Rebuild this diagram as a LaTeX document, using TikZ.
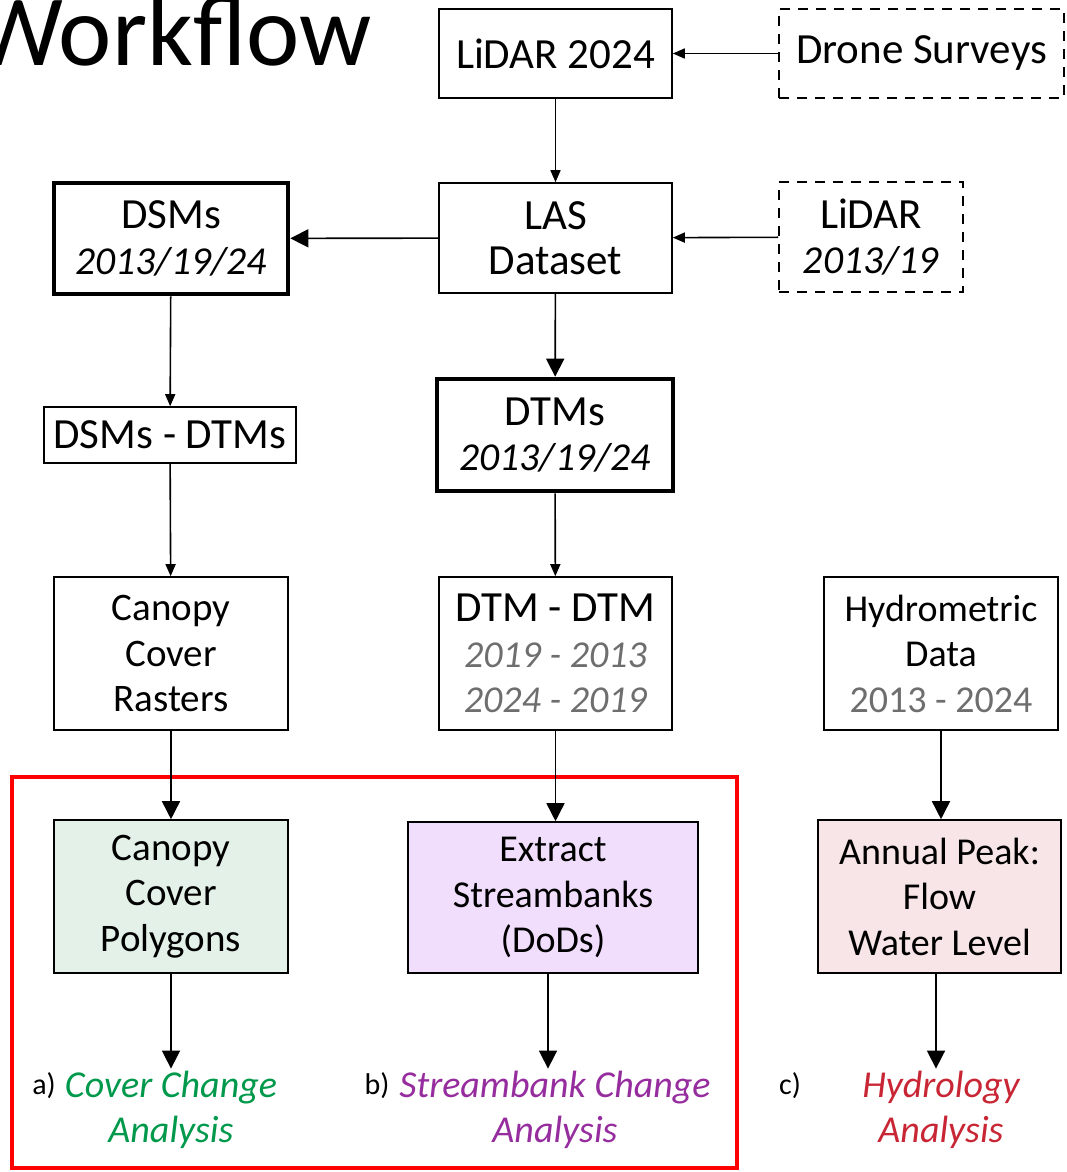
\documentclass[tikz,border=0pt]{standalone}
\usepackage{fontspec}
\setmainfont{Carlito}
\usetikzlibrary{arrows.meta}
\definecolor{coverfill}{RGB}{227,241,232}
\definecolor{bankfill}{RGB}{241,222,252}
\definecolor{hydrofill}{RGB}{247,229,231}
\definecolor{covertext}{RGB}{0,153,76}
\definecolor{banktext}{RGB}{150,45,158}
\definecolor{hydrotext}{RGB}{200,38,52}
\definecolor{yeartext}{RGB}{110,110,110}
\newcommand{\yearsize}{\fontsize{19.8}{22.75}\selectfont}
\newcommand{\greysize}{\fontsize{19}{22.75}\selectfont}
\tikzset{
  box/.style={draw, line width=0.8pt, align=center, inner sep=0pt},
  thickbox/.style={box, line width=2.3pt},
  dashbox/.style={box, dash pattern=on 5pt off 4pt},
  midtext/.style={font=\fontsize{19.5}{22.75}\selectfont},
  smalltext/.style={font=\fontsize{19}{22.75}\selectfont},
  arr/.style={-{Triangle[length=6pt, width=5pt]}, line width=0.8pt},
  bigarr/.style={-{Triangle[length=9pt, width=9pt]}, line width=0.8pt},
  result/.style={align=center, inner sep=1pt, font=\fontsize{19}{22.75}\selectfont\itshape},
  tag/.style={anchor=base, inner sep=0pt, font=\fontsize{15}{18}\selectfont}
}

\begin{document}
\begin{tikzpicture}[x=0.5pt, y=-0.5pt, every node/.style={font=\fontsize{21.5}{22.75}\selectfont}]
    \useasboundingbox (0,0) rectangle (1066,1172);

    % Title
    \node[anchor=base east, inner sep=0pt, font=\fontsize{50.5}{54}\selectfont] (title) at (372,66) {Workflow};

    % Top row
    \node[box, minimum width=116.5pt, minimum height=44.5pt] (lidar24) at (555.5,53.5) {LiDAR 2024};
    \node[dashbox, minimum width=142.5pt, minimum height=44.5pt] (drone) at (921.5,53.5) {Drone Surveys};

    % Second row
    \node[box, minimum width=116.5pt, minimum height=55pt] (las) at (555.5,238) {LAS\\Dataset};
    \node[dashbox, minimum width=92pt, minimum height=55pt] (lidarold) at (871,237) {LiDAR\\{\yearsize\textit{2013/19}}};
    \node[thickbox, minimum width=117pt, minimum height=55.5pt] (dsms) at (171,238.5) {DSMs\\{\yearsize\textit{2013/19/24}}};

    % Third row
    \node[thickbox, minimum width=118pt, minimum height=56pt] (dtms) at (555,435) {DTMs\\{\yearsize\textit{2013/19/24}}};
    \node[box, minimum width=126pt, minimum height=28pt] (diffsm) at (170,435) {DSMs - DTMs};

    % Fourth row
    \node[box, midtext, minimum width=117pt, minimum height=76.5pt] (rasters) at (171,653.5) {Canopy\\Cover\\Rasters};
    \node[box, minimum width=116.5pt, minimum height=76.5pt] (diffdtm) at (555.5,653.5)
        {DTM - DTM\\{\greysize\color{yeartext}\textit{2019 - 2013}}\\{\greysize\color{yeartext}\textit{2024 - 2019}}};
    \node[box, smalltext, minimum width=117pt, minimum height=76.5pt] (hydro) at (941,653.5) {Hydrometric\\Data\\\textcolor{yeartext}{2013 - 2024}};

    % Fifth row
    \node[box, midtext, fill=coverfill, minimum width=117pt, minimum height=76.5pt] (polygons) at (171,896.5) {Canopy\\Cover\\Polygons};
    \node[box, smalltext, fill=bankfill, minimum width=145pt, minimum height=75.5pt] (banks) at (553,897.5) {Extract\\Streambanks\\(DoDs)};
    \node[box, smalltext, fill=hydrofill, minimum width=121.5pt, minimum height=76.5pt] (peak) at (939.5,896.5) {Annual Peak:\\Flow\\Water Level};

    % Analyses
    \node[result, text=covertext] (covera) at (171,1110) {Cover Change\\Analysis};
    \node[result, text=banktext] (bankb) at (555,1110) {Streambank Change\\Analysis};
    \node[result, text=hydrotext] (hydroc) at (941,1110) {Hydrology\\Analysis};
    \node[tag] (la) at (44,1094) {a)};
    \node[tag] (lb) at (377,1094) {b)};
    \node[tag] (lc) at (790,1094) {c)};

    % Highlight frame
    \draw[red, line width=2.2pt] (12,777) rectangle (737,1168);

    % Connectors
    \draw[arr] (drone) -- (lidar24);
    \draw[arr] (lidar24) -- (las);
    \draw[arr] (lidarold) -- (las);
    \draw[bigarr] (las) -- (dsms);
    \draw[bigarr] (las) -- (dtms);
    \draw[arr] (dsms) -- (diffsm);
    \draw[arr] (diffsm) -- (rasters);
    \draw[arr] (dtms) -- (diffdtm);
    \draw[bigarr] (rasters) -- (polygons);
    \draw[bigarr] (diffdtm) -- (banks.north -| diffdtm.south);
    \draw[bigarr] (hydro) -- (peak.north -| hydro.south);
    \draw[bigarr] (polygons) -- (polygons.south |- covera.north);
    \draw[bigarr] (banks.south -| 548,0) -- (covera.north -| 548,0);
    \draw[bigarr] (peak.south -| 936,0) -- (hydroc.north -| 936,0);
\end{tikzpicture}
\end{document}
